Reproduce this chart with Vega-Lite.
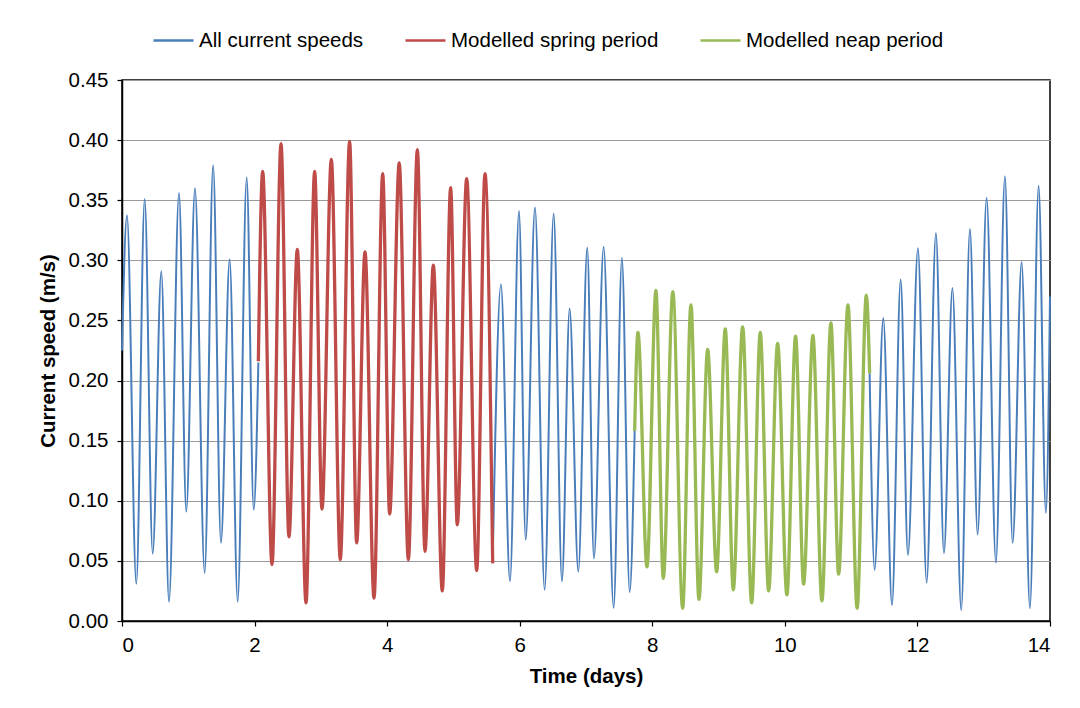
{
  "$schema": "https://vega.github.io/schema/vega-lite/v6.json",
  "width": 928,
  "height": 541,
  "autosize": {"type": "none"},
  "padding": {"left": 122, "top": 80, "right": 30, "bottom": 87},
  "background": "white",
  "config": {
    "font": "Liberation Sans",
    "view": {"stroke": "black", "strokeWidth": 1.5},
    "axis": {"labelFont": "Liberation Sans", "titleFont": "Liberation Sans", "labelFontSize": 20.5, "titleFontSize": 20.5, "labelColor": "black", "titleColor": "black", "domainColor": "black", "tickColor": "black", "domainWidth": 1.5, "tickSize": 5, "tickWidth": 1.2, "titleFontWeight": "bold"}
  },
  "data": {"values": [
    {"t": 0.0, "v": 0.225, "s": "All current speeds", "g": "b1"},
    {"t": 0.075, "v": 0.3375, "s": "All current speeds", "g": "b1"},
    {"t": 0.216, "v": 0.031, "s": "All current speeds", "g": "b1"},
    {"t": 0.342, "v": 0.351, "s": "All current speeds", "g": "b1"},
    {"t": 0.463, "v": 0.056, "s": "All current speeds", "g": "b1"},
    {"t": 0.593, "v": 0.291, "s": "All current speeds", "g": "b1"},
    {"t": 0.709, "v": 0.016, "s": "All current speeds", "g": "b1"},
    {"t": 0.86, "v": 0.356, "s": "All current speeds", "g": "b1"},
    {"t": 0.97, "v": 0.091, "s": "All current speeds", "g": "b1"},
    {"t": 1.101, "v": 0.36, "s": "All current speeds", "g": "b1"},
    {"t": 1.247, "v": 0.04, "s": "All current speeds", "g": "b1"},
    {"t": 1.375, "v": 0.379, "s": "All current speeds", "g": "b1"},
    {"t": 1.493, "v": 0.065, "s": "All current speeds", "g": "b1"},
    {"t": 1.624, "v": 0.301, "s": "All current speeds", "g": "b1"},
    {"t": 1.745, "v": 0.016, "s": "All current speeds", "g": "b1"},
    {"t": 1.881, "v": 0.369, "s": "All current speeds", "g": "b1"},
    {"t": 1.987, "v": 0.0925, "s": "All current speeds", "g": "b1"},
    {"t": 2.057, "v": 0.215, "s": "All current speeds", "g": "b1"},
    {"t": 2.057, "v": 0.216, "s": "Modelled spring period", "g": "r"},
    {"t": 2.122, "v": 0.374, "s": "Modelled spring period", "g": "r"},
    {"t": 2.263, "v": 0.047, "s": "Modelled spring period", "g": "r"},
    {"t": 2.399, "v": 0.397, "s": "Modelled spring period", "g": "r"},
    {"t": 2.519, "v": 0.07, "s": "Modelled spring period", "g": "r"},
    {"t": 2.645, "v": 0.309, "s": "Modelled spring period", "g": "r"},
    {"t": 2.776, "v": 0.015, "s": "Modelled spring period", "g": "r"},
    {"t": 2.906, "v": 0.374, "s": "Modelled spring period", "g": "r"},
    {"t": 3.017, "v": 0.093, "s": "Modelled spring period", "g": "r"},
    {"t": 3.158, "v": 0.384, "s": "Modelled spring period", "g": "r"},
    {"t": 3.293, "v": 0.051, "s": "Modelled spring period", "g": "r"},
    {"t": 3.434, "v": 0.399, "s": "Modelled spring period", "g": "r"},
    {"t": 3.54, "v": 0.065, "s": "Modelled spring period", "g": "r"},
    {"t": 3.666, "v": 0.307, "s": "Modelled spring period", "g": "r"},
    {"t": 3.802, "v": 0.019, "s": "Modelled spring period", "g": "r"},
    {"t": 3.933, "v": 0.372, "s": "Modelled spring period", "g": "r"},
    {"t": 4.038, "v": 0.089, "s": "Modelled spring period", "g": "r"},
    {"t": 4.182, "v": 0.381, "s": "Modelled spring period", "g": "r"},
    {"t": 4.32, "v": 0.051, "s": "Modelled spring period", "g": "r"},
    {"t": 4.456, "v": 0.392, "s": "Modelled spring period", "g": "r"},
    {"t": 4.571, "v": 0.058, "s": "Modelled spring period", "g": "r"},
    {"t": 4.697, "v": 0.296, "s": "Modelled spring period", "g": "r"},
    {"t": 4.832, "v": 0.025, "s": "Modelled spring period", "g": "r"},
    {"t": 4.958, "v": 0.3605, "s": "Modelled spring period", "g": "r"},
    {"t": 5.058, "v": 0.08, "s": "Modelled spring period", "g": "r"},
    {"t": 5.2, "v": 0.368, "s": "Modelled spring period", "g": "r"},
    {"t": 5.351, "v": 0.042, "s": "Modelled spring period", "g": "r"},
    {"t": 5.476, "v": 0.372, "s": "Modelled spring period", "g": "r"},
    {"t": 5.592, "v": 0.048, "s": "Modelled spring period", "g": "r"},
    {"t": 5.592, "v": 0.048, "s": "All current speeds", "g": "b2"},
    {"t": 5.717, "v": 0.28, "s": "All current speeds", "g": "b2"},
    {"t": 5.853, "v": 0.033, "s": "All current speeds", "g": "b2"},
    {"t": 5.989, "v": 0.341, "s": "All current speeds", "g": "b2"},
    {"t": 6.09, "v": 0.0675, "s": "All current speeds", "g": "b2"},
    {"t": 6.23, "v": 0.344, "s": "All current speeds", "g": "b2"},
    {"t": 6.376, "v": 0.026, "s": "All current speeds", "g": "b2"},
    {"t": 6.512, "v": 0.339, "s": "All current speeds", "g": "b2"},
    {"t": 6.637, "v": 0.033, "s": "All current speeds", "g": "b2"},
    {"t": 6.753, "v": 0.26, "s": "All current speeds", "g": "b2"},
    {"t": 6.884, "v": 0.041, "s": "All current speeds", "g": "b2"},
    {"t": 7.019, "v": 0.3105, "s": "All current speeds", "g": "b2"},
    {"t": 7.12, "v": 0.052, "s": "All current speeds", "g": "b2"},
    {"t": 7.266, "v": 0.311, "s": "All current speeds", "g": "b2"},
    {"t": 7.417, "v": 0.011, "s": "All current speeds", "g": "b2"},
    {"t": 7.542, "v": 0.302, "s": "All current speeds", "g": "b2"},
    {"t": 7.659, "v": 0.024, "s": "All current speeds", "g": "b2"},
    {"t": 7.734, "v": 0.158, "s": "All current speeds", "g": "b2"},
    {"t": 7.734, "v": 0.158, "s": "Modelled neap period", "g": "n"},
    {"t": 7.784, "v": 0.24, "s": "Modelled neap period", "g": "n"},
    {"t": 7.92, "v": 0.045, "s": "Modelled neap period", "g": "n"},
    {"t": 8.055, "v": 0.275, "s": "Modelled neap period", "g": "n"},
    {"t": 8.166, "v": 0.0355, "s": "Modelled neap period", "g": "n"},
    {"t": 8.31, "v": 0.274, "s": "Modelled neap period", "g": "n"},
    {"t": 8.458, "v": 0.0106, "s": "Modelled neap period", "g": "n"},
    {"t": 8.583, "v": 0.263, "s": "Modelled neap period", "g": "n"},
    {"t": 8.704, "v": 0.018, "s": "Modelled neap period", "g": "n"},
    {"t": 8.835, "v": 0.226, "s": "Modelled neap period", "g": "n"},
    {"t": 8.971, "v": 0.041, "s": "Modelled neap period", "g": "n"},
    {"t": 9.101, "v": 0.243, "s": "Modelled neap period", "g": "n"},
    {"t": 9.222, "v": 0.026, "s": "Modelled neap period", "g": "n"},
    {"t": 9.363, "v": 0.2447, "s": "Modelled neap period", "g": "n"},
    {"t": 9.499, "v": 0.015, "s": "Modelled neap period", "g": "n"},
    {"t": 9.629, "v": 0.24, "s": "Modelled neap period", "g": "n"},
    {"t": 9.755, "v": 0.025, "s": "Modelled neap period", "g": "n"},
    {"t": 9.891, "v": 0.231, "s": "Modelled neap period", "g": "n"},
    {"t": 10.031, "v": 0.0217, "s": "Modelled neap period", "g": "n"},
    {"t": 10.162, "v": 0.237, "s": "Modelled neap period", "g": "n"},
    {"t": 10.283, "v": 0.0306, "s": "Modelled neap period", "g": "n"},
    {"t": 10.423, "v": 0.2375, "s": "Modelled neap period", "g": "n"},
    {"t": 10.559, "v": 0.0167, "s": "Modelled neap period", "g": "n"},
    {"t": 10.695, "v": 0.248, "s": "Modelled neap period", "g": "n"},
    {"t": 10.811, "v": 0.039, "s": "Modelled neap period", "g": "n"},
    {"t": 10.952, "v": 0.263, "s": "Modelled neap period", "g": "n"},
    {"t": 11.09, "v": 0.0106, "s": "Modelled neap period", "g": "n"},
    {"t": 11.229, "v": 0.271, "s": "Modelled neap period", "g": "n"},
    {"t": 11.279, "v": 0.206, "s": "Modelled neap period", "g": "n"},
    {"t": 11.279, "v": 0.206, "s": "All current speeds", "g": "b3"},
    {"t": 11.354, "v": 0.0425, "s": "All current speeds", "g": "b3"},
    {"t": 11.485, "v": 0.252, "s": "All current speeds", "g": "b3"},
    {"t": 11.616, "v": 0.0133, "s": "All current speeds", "g": "b3"},
    {"t": 11.747, "v": 0.284, "s": "All current speeds", "g": "b3"},
    {"t": 11.857, "v": 0.055, "s": "All current speeds", "g": "b3"},
    {"t": 12.008, "v": 0.31, "s": "All current speeds", "g": "b3"},
    {"t": 12.139, "v": 0.032, "s": "All current speeds", "g": "b3"},
    {"t": 12.279, "v": 0.3225, "s": "All current speeds", "g": "b3"},
    {"t": 12.4, "v": 0.0564, "s": "All current speeds", "g": "b3"},
    {"t": 12.528, "v": 0.277, "s": "All current speeds", "g": "b3"},
    {"t": 12.661, "v": 0.009, "s": "All current speeds", "g": "b3"},
    {"t": 12.792, "v": 0.326, "s": "All current speeds", "g": "b3"},
    {"t": 12.908, "v": 0.072, "s": "All current speeds", "g": "b3"},
    {"t": 13.044, "v": 0.352, "s": "All current speeds", "g": "b3"},
    {"t": 13.184, "v": 0.0486, "s": "All current speeds", "g": "b3"},
    {"t": 13.32, "v": 0.37, "s": "All current speeds", "g": "b3"},
    {"t": 13.436, "v": 0.065, "s": "All current speeds", "g": "b3"},
    {"t": 13.572, "v": 0.2986, "s": "All current speeds", "g": "b3"},
    {"t": 13.697, "v": 0.0106, "s": "All current speeds", "g": "b3"},
    {"t": 13.828, "v": 0.362, "s": "All current speeds", "g": "b3"},
    {"t": 13.938, "v": 0.09, "s": "All current speeds", "g": "b3"},
    {"t": 14.0, "v": 0.27, "s": "All current speeds", "g": "b3"}
  ]},
  "encoding": {
    "x": {"field": "t", "type": "quantitative", "scale": {"domain": [0, 14], "nice": false},
      "axis": {"title": "Time (days)", "values": [0, 2, 4, 6, 8, 10, 12, 14], "format": "d", "grid": false, "labelPadding": 9, "titlePadding": 11}},
    "y": {"field": "v", "type": "quantitative", "scale": {"domain": [0, 0.45], "nice": false},
      "axis": {"title": "Current speed (m/s)", "values": [0, 0.05, 0.1, 0.15, 0.2, 0.25, 0.3, 0.35, 0.4, 0.45], "format": ".2f", "grid": true, "gridColor": "#9a9a9a", "gridWidth": 1.2, "labelPadding": 9, "titlePadding": 10}},
    "color": {"field": "s", "type": "nominal",
      "scale": {"domain": ["All current speeds", "Modelled spring period", "Modelled neap period"], "range": ["#4A7EBB", "#BE4B48", "#98B954"]},
      "legend": {"title": null, "orient": "none", "direction": "horizontal", "legendX": 30, "legendY": -61, "symbolType": "stroke", "symbolSize": 1600, "symbolStrokeWidth": 2.5, "labelFont": "Liberation Sans", "labelFontSize": 20.5, "labelColor": "black", "labelOffset": 4, "columnPadding": 36, "labelLimit": 400}},
    "detail": {"field": "g", "type": "nominal"}
  },
  "layer": [
    {"transform": [{"filter": "datum.s === 'All current speeds'"}], "mark": {"type": "line", "interpolate": "monotone", "strokeWidth": 2}},
    {"transform": [{"filter": "datum.s === 'Modelled spring period'"}], "mark": {"type": "line", "interpolate": "monotone", "strokeWidth": 3.3}},
    {"transform": [{"filter": "datum.s === 'Modelled neap period'"}], "mark": {"type": "line", "interpolate": "monotone", "strokeWidth": 3.3}}
  ]
}
